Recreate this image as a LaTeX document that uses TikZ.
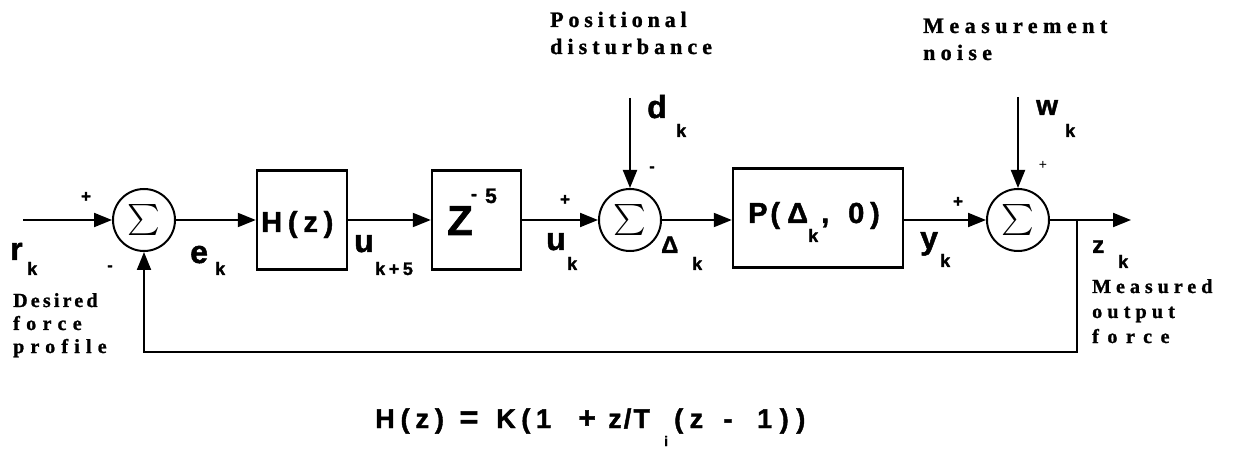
\documentclass[tikz,border=0pt]{standalone}
\usepackage{fontspec}
\usepackage{graphicx}
\setmainfont{Liberation Serif}[BoldFeatures={FakeBold=1.2}]
\newfontfamily\hv{Liberation Sans}[BoldFeatures={FakeBold=1.5}]
\usetikzlibrary{arrows.meta}
\newcommand\spc[1]{\addfontfeature{LetterSpace=#1}}
\tikzset{
  lab/.style={inner sep=0pt, anchor=base west, font=\hv\bfseries\fontsize{32}{32}\selectfont},
  sublab/.style={inner sep=0pt, anchor=base west, font=\hv\bfseries\fontsize{18}{18}\selectfont\spc{20}},
  sgn/.style={inner sep=0pt, font=\hv\bfseries\fontsize{17}{17}\selectfont},
  dsh/.style={inner sep=0pt, font=\hv\bfseries\fontsize{16}{16}\selectfont},
  capt/.style={inner sep=0pt, anchor=base west, font=\bfseries\fontsize{22}{22}\selectfont},
  scapt/.style={inner sep=0pt, anchor=base west, font=\bfseries\fontsize{20}{20}\selectfont},
  boxlab/.style={inner sep=0pt, anchor=base west, font=\hv\bfseries\fontsize{29}{29}\selectfont\spc{20}},
  frm/.style={inner sep=0pt, anchor=base west, font=\hv\bfseries\fontsize{27}{27}\selectfont},
  blk/.style={draw, line width=2.4pt, inner sep=0pt},
  sumc/.style={circle, draw, line width=2pt, minimum size=62pt, inner sep=0pt},
  arr/.style={line width=2pt, -{Triangle[length=18pt,width=14pt]}}
}
\begin{document}
\begin{tikzpicture}[x=1pt,y=-1pt]
\useasboundingbox (0,0) rectangle (1237,462);

% blocks
\node[sumc] (s1) at (144,220) {\scalebox{3.1}{$\sum$}};
\node[blk, minimum width=90pt, minimum height=99pt] (H) at (302,220) {};
\node[blk, minimum width=89pt, minimum height=99pt] (Z) at (476.5,220) {};
\node[sumc] (s2) at (630,220) {\scalebox{3.1}{$\sum$}};
\node[blk, minimum width=170pt, minimum height=99pt] (P) at (818,218) {};
\node[sumc] (s3) at (1018,220) {\scalebox{3.1}{$\sum$}};

% block texts
\node[boxlab] (Ht) at (261,232) {H(z)};
\node[inner sep=0pt, anchor=base west, font=\hv\bfseries\fontsize{42}{42}\selectfont] (Zt) at (447,235) {Z};
\node[inner sep=0pt, font=\hv\bfseries\fontsize{18}{18}\selectfont] (Zm) at (474,197) {-};
\node[inner sep=0pt, anchor=base west, font=\hv\bfseries\fontsize{21}{21}\selectfont] (Z5) at (485,203) {5};
\node[boxlab, font=\hv\bfseries\fontsize{29}{29}\selectfont\spc{10}] (Pt) at (748,223) {P(};
\node[boxlab, font=\hv\bfseries\fontsize{29}{29}\selectfont] (Pd) at (787,223) {Δ};
\node[sublab] (Pk) at (808,242) {k};
\node[boxlab, font=\hv\bfseries\fontsize{29}{29}\selectfont] (Pc) at (821,223) {,};
\node[boxlab, font=\hv\bfseries\fontsize{29}{29}\selectfont\spc{20}] (P0) at (848,223) {0)};

% connectors
\coordinate (rin) at (23,220);
\draw[arr] (rin) -- (s1.west);
\draw[arr] (s1.east) -- (H.west);
\draw[arr] (H.east) -- (Z.west);
\draw[arr] (Z.east) -- (s2.west);
\coordinate (dtop) at (630,98);
\draw[arr] (dtop) -- (s2.north);
\draw[arr] (s2.east) -- (P.west |- s2.east);
\draw[arr] (P.east |- s3.west) -- (s3.west);
\coordinate (wtop) at (1018,97);
\draw[arr] (wtop) -- (s3.north);
\coordinate (out) at (1131,220);
\draw[arr] (s3.east) -- (out);
\coordinate (br) at (1077,220);
\coordinate (fb) at (1077,352);
\draw[arr] (br) -- (fb) -| (s1.south);

% signal labels
\node[lab] (r) at (10,260) {r};
\node[sublab] (rk) at (27,275) {k};
\node[lab] (e) at (190,263) {e};
\node[sublab] (ek) at (215,275) {k};
\node[lab] (u5) at (354,252) {u};
\node[sublab] (u5k) at (375,275) {k+5};
\node[lab] (u) at (546,250) {u};
\node[sublab] (uk) at (567,270) {k};
\node[lab, font=\hv\bfseries\fontsize{24}{24}\selectfont] (D) at (661,253) {Δ};
\node[sublab] (Dk) at (692,270) {k};
\node[lab] (d) at (647,118) {d};
\node[sublab] (dk) at (676,137) {k};
\node[lab] (y) at (920,249) {y};
\node[sublab] (yk) at (940,267) {k};
\node[lab, font=\hv\bfseries\fontsize{28}{28}\selectfont] (w) at (1036,115) {w};
\node[sublab] (wk) at (1065,137) {k};
\node[lab, font=\hv\bfseries\fontsize{24}{24}\selectfont] (z) at (1092,253) {z};
\node[sublab] (zk) at (1118,268) {k};

% signs
\node[sgn] (p1) at (86,197) {+};
\node[dsh] (m1) at (110,268) {-};
\node[sgn] (p2) at (565,200) {+};
\node[dsh] (m2) at (652,169) {-};
\node[sgn] (p3) at (958,202) {+};
\node[sgn, font=\hv\fontsize{14}{14}\selectfont] (p4) at (1043,165) {+};

% captions
\node[capt] (c1) at (550,27) {\spc{22}Positional};
\node[capt] (c2) at (550,54) {\spc{23}disturbance};
\node[capt] (c3) at (923,33) {\spc{25}Measurement};
\node[capt] (c4) at (923,60) {\spc{24}noise};
\node[scapt] (c5) at (13,307) {\spc{16}Desired};
\node[scapt] (c6) at (13,330) {\spc{32}force};
\node[scapt] (c7) at (13,353) {\spc{31}profile};
\node[scapt] (c8) at (1092,293) {\spc{25}Measured};
\node[scapt] (c9) at (1092,318) {\spc{26}output};
\node[scapt] (c10) at (1092,343) {\spc{43}force};

% formula
\node[frm, font=\hv\bfseries\fontsize{27}{27}\selectfont\spc{22}] (f1) at (375,428) {H(z)};
\node[frm, anchor=base, font=\hv\bfseries\fontsize{32}{32}\selectfont] (f2) at (469,428) {=};
\node[frm, font=\hv\bfseries\fontsize{27}{27}\selectfont\spc{21}] (f3) at (496,428) {K(1};
\node[frm, anchor=base, font=\hv\bfseries\fontsize{30}{30}\selectfont] (f4) at (587,428) {+};
\node[frm, font=\hv\bfseries\fontsize{27}{27}\selectfont\spc{8}] (f5) at (608,428) {z/T};
\node[sublab, font=\hv\bfseries\fontsize{14}{14}\selectfont] (f6) at (664,446) {i};
\node[frm, font=\hv\bfseries\fontsize{27}{27}\selectfont\spc{24}] (f7) at (674,428) {(z};
\node[frm, anchor=base] (f8) at (728,428) {-};
\node[frm, font=\hv\bfseries\fontsize{27}{27}\selectfont\spc{28}] (f9) at (757,428) {1))};
\end{tikzpicture}
\end{document}
